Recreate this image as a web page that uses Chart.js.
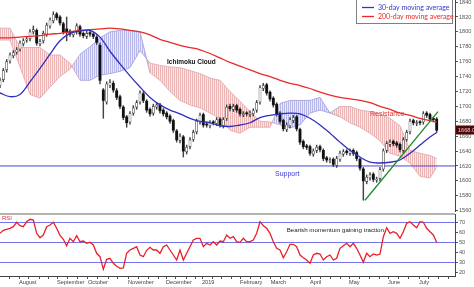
<!DOCTYPE html>
<html lang="en">
<head>
<meta charset="UTF-8">
<title>Index with Ichimoku cloud and RSI</title>
<script src="https://cdn.jsdelivr.net/npm/chart.js"></script>
<style>
    html, body { margin: 0; padding: 0; background: #fff; }
    #wrap { position: relative; width: 474px; height: 287px; overflow: hidden; }
    #priceBox { position: absolute; left: 0; top: 0; width: 474px; height: 212px; }
    #rsiBox { position: absolute; left: 0; top: 212px; width: 474px; height: 75px; }
</style>
</head>
<body>
<div id="wrap">
    <div id="priceBox"><canvas id="price"></canvas></div>
    <div id="rsiBox"><canvas id="rsi"></canvas></div>
</div>
<script>
// ---- data (x = session index) ----
const opens  = [1728,1736,1749,1761,1768,1773,1777,1784,1789,1791,1800,1802,1784,1788,1797,1808,1815,1824,1820,1811,1804,1801,1796,1800,1807,1798,1794,1799,1797,1793,
                1782,1722,1706,1728,1731,1721,1713,1699,1686,1679,1691,1699,1706,1717,1707,1696,1691,1699,
                1702,1695,1691,1687,1681,1667,1654,1659,1639,1646,1656,1666,1679,1689,1676,1674,1679,1677,1683,1674,1684,1700,1696,1701,1696,1689,1691,1689,1690,1695,1706,1724,
                1729,1719,1711,1703,1691,1681,1669,1674,1681,1686,1669,1653,1647,1646,1636,1641,1646,1641,1631,1627,1629,1621,1629,1636,1640,1637,1641,1638,1629,1616,
                1599,1604,1609,1601,1603,1616,1641,1649,1653,1651,1649,1641,1656,1666,1681,1677,1679,1679,1691,1689,1684,1683];
const highs  = [1738,1751,1763,1772,1775,1779,1788,1791,1793,1803,1808,1804,1790,1801,1812,1819,1827,1826,1822,1813,1820,1803,1801,1811,1809,1800,1801,1801,1799,1795,
                1785,1724,1733,1736,1734,1724,1715,1701,1688,1693,1701,1708,1721,1720,1709,1698,1703,1705,
                1704,1697,1693,1689,1683,1669,1663,1661,1648,1658,1668,1683,1691,1691,1678,1681,1681,1685,1685,1685,1702,1703,1703,1703,1698,1693,1693,1694,1697,1708,1728,1731,
                1731,1721,1713,1705,1693,1683,1678,1685,1688,1688,1671,1655,1649,1648,1643,1648,1648,1643,1633,1631,1631,1633,1640,1642,1642,1643,1643,1640,1631,1618,
                1608,1611,1611,1605,1618,1643,1653,1655,1655,1653,1651,1658,1668,1683,1683,1681,1681,1693,1693,1691,1686,1685];
const lows   = [1725,1733,1746,1758,1765,1770,1774,1781,1786,1788,1797,1782,1781,1785,1794,1805,1812,1816,1809,1797,1788,1794,1793,1797,1794,1792,1791,1794,1791,1783,
                1730,1684,1703,1725,1719,1709,1697,1682,1672,1676,1688,1696,1703,1705,1692,1687,1688,1696,
                1691,1687,1683,1677,1665,1652,1651,1632,1636,1643,1653,1663,1676,1672,1672,1671,1675,1674,1672,1671,1681,1694,1693,1692,1687,1686,1687,1686,1687,1692,1703,1721,
                1715,1707,1699,1687,1677,1667,1666,1671,1678,1667,1649,1643,1642,1634,1633,1638,1639,1627,1625,1624,1619,1618,1626,1633,1635,1634,1634,1627,1614,1574,
                1596,1601,1599,1598,1600,1613,1638,1646,1647,1645,1639,1638,1653,1663,1675,1674,1675,1676,1685,1680,1679,1665];
const closes = [1735,1748,1760,1769,1772,1776,1785,1788,1790,1800,1803,1785,1787,1798,1809,1816,1823,1819,1812,1800,1800,1797,1799,1808,1797,1795,1798,1797,1794,1786,
                1735,1708,1730,1732,1722,1712,1700,1685,1678,1690,1698,1705,1718,1708,1695,1690,1700,1702,
                1694,1690,1686,1680,1668,1655,1660,1640,1645,1655,1665,1680,1688,1675,1675,1678,1678,1682,1675,1682,1699,1697,1700,1695,1690,1690,1690,1691,1694,1705,1725,1728,
                1718,1710,1702,1690,1680,1670,1675,1682,1685,1670,1652,1646,1645,1637,1640,1645,1642,1630,1628,1628,1622,1630,1637,1639,1638,1640,1637,1630,1617,1600,
                1605,1608,1602,1602,1615,1640,1650,1652,1650,1648,1642,1655,1665,1680,1678,1678,1678,1690,1688,1683,1682,1668];

// moving averages and Ichimoku spans, sampled every 3 sessions
const maIdx  = [0,3,6,9,12,15,18,21,24,27,30,33,36,39,42,45,48,51,54,57,60,63,66,69,72,75,78,81,84,87,90,93,96,99,102,105,108,111,114,117,120,123,126,129,131];
const ma30   = [1718,1713,1716,1733,1751,1770,1788,1798,1801,1802,1793,1774,1757,1741,1726,1712,1702,1695,1690,1684,1680,1678,1674,1673,1675,1678,1685,1688,1690,1691,1690,1684,1675,1664,1652,1641,1632,1625,1624,1625,1628,1637,1648,1659,1665];
const ma200  = [1792,1792,1793,1794,1795,1797,1798,1800,1802,1803,1804,1805,1804,1802,1800,1796,1790,1786,1782,1779,1776,1771,1765,1759,1754,1749,1744,1740,1735,1731,1728,1724,1719,1715,1712,1710,1708,1705,1700,1696,1691,1688,1684,1681,1679];
const spanA  = [1789,1789,1753,1716,1711,1726,1740,1750,1770,1780,1792,1800,1802,1802,1800,1745,1735,1720,1708,1702,1698,1691,1684,1668,1664,1672,1672,1672,1704,1708,1708,1708,1712,1691,1686,1678,1672,1664,1654,1637,1633,1624,1606,1604,1618];
const spanB  = [1805,1805,1779,1779,1779,1769,1769,1758,1735,1735,1742,1744,1747,1752,1775,1758,1755,1753,1752,1748,1744,1738,1735,1720,1707,1693,1680,1679,1675,1671,1675,1691,1695,1691,1700,1700,1695,1693,1690,1684,1674,1641,1637,1634,1630];

const supportLevel = 1620;
const trendIdx = [109.5, 131.4];
const trendVal = [1574, 1693];

const rsi = [59,62,63,64,65.6,70,66.6,65.6,70.6,73,72.3,59,54.6,57.3,65.6,67.3,70,64,57,53,46.6,54,50.6,56.6,50.6,51.3,49,50,47.3,39,
             35.6,23,33,34,29,26,24,24.5,39,42.3,44,45.6,37.3,35.6,42,45,42.3,42.3,39,45.6,47.3,42.3,37.3,32.3,42.3,32.3,39,45.6,52.3,54,
             54,45.6,49,47.3,50.6,47.3,51.3,50.6,57.3,54,55.6,50.6,50,54,50.6,50.6,52.3,59,70.6,66.6,64,59,50.6,44,42.3,34.6,40.6,48,48,45.6,
             37.3,34.6,32.3,29,37.3,39,38.3,32.3,35.6,37.3,32.3,34,44,46.6,49,45.6,49,44,37.3,30,39,35.6,38.3,37.3,38.3,55.6,64.6,59,60.6,59,
             54,60.6,69,70.6,67.3,64.6,70.6,70,64,60.6,57.3,50];

const monthNames = ['August','September','October','November','December','2019','February','March','April','May','June','July'];
const monthPos   = [5.7,17.1,26.4,38.4,49.8,60.6,72,81.2,93,104.7,116.4,125.7];
const priceTicks = [1560,1570,1580,1590,1600,1610,1620,1630,1640,1650,1660,1670,1680,1690,1700,1710,1720,1730,1740,1750,1760,1770,1780,1790,1800,1810,1820,1830,1840];
const rsiTicks   = [20,25,30,35,40,45,50,55,60,65,70,75];
const rsiLevels  = [30,50,70];

const X_MAX = 136.5;

// ---- helpers ----
const pts = (xs, ys) => xs.map((x, i) => ({ x: x, y: ys[i] }));

function hatch(ctx, bg, line) {
    const c = document.createElement('canvas');
    c.width = 2; c.height = 2;
    const g = c.getContext('2d');
    g.fillStyle = bg; g.fillRect(0, 0, 2, 2);
    g.fillStyle = line; g.fillRect(0, 0, 1, 2);
    return ctx.createPattern(c, 'repeat');
}

const priceCtx = document.getElementById('price').getContext('2d');
const pinkHatch = hatch(priceCtx, '#fce8e8', '#edb6b6');
const blueHatch = hatch(priceCtx, '#e8e8f8', '#b8b8ea');

const wicks = closes.map((c, i) => ({ x: i, y: [lows[i], highs[i]] }));
const upBodies = [], downBodies = [];
closes.forEach((c, i) => {
    const bar = { x: i, y: [opens[i], c] };
    if (c >= opens[i]) upBodies.push(bar); else downBodies.push(bar);
});

const edgeColor = ctx => spanA[ctx.p0DataIndex] >= spanB[ctx.p0DataIndex] ? '#9c9cd8' : '#dba4ac';

const tickFont = { family: 'Liberation Sans', size: 5.6 };
const plain = v => String(v);

// ---- price panel ----
const priceNotes = {
    id: 'priceNotes',
    afterDraw(chart) {
        const { ctx, chartArea: a, scales: { x, y } } = chart;
        ctx.save();
        ctx.textBaseline = 'middle';
        ctx.textAlign = 'left';

        ctx.font = 'bold 6.5px "Liberation Sans"';
        ctx.fillStyle = '#111';
        ctx.fillText('Ichimoku Cloud', x.getPixelForValue(50.1), y.getPixelForValue(1759.5));

        ctx.font = '7px "Liberation Sans"';
        ctx.fillStyle = '#e03a3a';
        ctx.fillText('Resistance', x.getPixelForValue(111), y.getPixelForValue(1690));
        ctx.fillStyle = '#3a3ad8';
        ctx.fillText('Support', x.getPixelForValue(82.5), y.getPixelForValue(1609));

        // last price tag on the axis
        const last = closes[closes.length - 1];
        const ty = Math.round(y.getPixelForValue(last));
        ctx.fillStyle = '#4a0808';
        ctx.fillRect(a.right + 1, ty - 4.5, chart.width - a.right - 1, 9);
        ctx.fillStyle = '#ffc8c8';
        ctx.font = '5.6px "Liberation Sans"';
        ctx.fillText(last.toFixed(2), a.right + 3, ty + 0.5);

        // legend box
        const lx = a.right - 99, lw = 96, lh = 24;
        ctx.fillStyle = '#fff';
        ctx.fillRect(lx, 0, lw, lh);
        ctx.strokeStyle = '#808080';
        ctx.lineWidth = 1;
        ctx.strokeRect(lx + 0.5, -0.5, lw, lh);
        ctx.lineWidth = 1.3;
        ctx.strokeStyle = '#3535c8';
        ctx.beginPath(); ctx.moveTo(lx + 6, 7.5); ctx.lineTo(lx + 18, 7.5); ctx.stroke();
        ctx.strokeStyle = '#e82a2a';
        ctx.beginPath(); ctx.moveTo(lx + 6, 16.5); ctx.lineTo(lx + 18, 16.5); ctx.stroke();
        ctx.font = '7px Lato';
        ctx.fillStyle = '#3535c8';
        ctx.fillText('30-day moving average', lx + 22, 7.5);
        ctx.fillStyle = '#e82a2a';
        ctx.fillText('200-day moving average', lx + 22, 16.5);
        ctx.restore();
    }
};

new Chart(priceCtx, {
    type: 'line',
    data: {
        datasets: [
            {
                label: 'Span A', data: pts(maIdx, spanA), order: 20,
                borderWidth: 0.8, pointRadius: 0, tension: 0,
                segment: { borderColor: edgeColor },
                fill: { target: 1, above: blueHatch, below: pinkHatch }
            },
            {
                label: 'Span B', data: pts(maIdx, spanB), order: 19,
                borderWidth: 0.8, pointRadius: 0, tension: 0,
                segment: { borderColor: edgeColor }, fill: false
            },
            {
                label: 'Support', data: [{ x: 0, y: supportLevel }, { x: X_MAX, y: supportLevel }], order: 15,
                borderColor: '#4646dc', borderWidth: 1, pointRadius: 0
            },
            {
                type: 'bar', label: 'wick', data: wicks, order: 12, grouped: false,
                backgroundColor: '#444', barThickness: 0.8
            },
            {
                type: 'bar', label: 'up', data: upBodies, order: 11, grouped: false,
                backgroundColor: '#fff', borderColor: '#333', borderWidth: 0.6, borderSkipped: false,
                barThickness: 2.2, minBarLength: 1
            },
            {
                type: 'bar', label: 'down', data: downBodies, order: 10, grouped: false,
                backgroundColor: '#111', barThickness: 2.2, minBarLength: 1
            },
            {
                label: '200-day moving average', data: pts(maIdx, ma200), order: 5,
                borderColor: '#e82a2a', borderWidth: 1.3, pointRadius: 0, tension: 0.35
            },
            {
                label: '30-day moving average', data: pts(maIdx, ma30), order: 4,
                borderColor: '#3030c0', borderWidth: 1.3, pointRadius: 0, tension: 0.35
            },
            {
                label: 'trend', data: pts(trendIdx, trendVal), order: 3,
                borderColor: '#1f8a2a', borderWidth: 1.3, pointRadius: 0
            }
        ]
    },
    options: {
        responsive: true,
        maintainAspectRatio: false,
        animation: false,
        layout: { padding: 0 },
        plugins: { legend: { display: false }, tooltip: { enabled: false } },
        scales: {
            x: { type: 'linear', min: 0, max: X_MAX, display: false, offset: false },
            y: {
                position: 'right', min: 1558.2, max: 1842.8,
                afterBuildTicks: s => { s.ticks = priceTicks.map(v => ({ value: v })); },
                afterFit: s => { s.width = 19; s.paddingTop = 0; s.paddingBottom = 0; },
                grid: { drawOnChartArea: false, tickLength: 3, tickColor: '#555' },
                border: { color: '#444' },
                ticks: { padding: 1, font: tickFont, color: '#555', callback: plain }
            }
        }
    },
    plugins: [priceNotes]
});

// ---- RSI panel ----
const weekTicks = [];
monthPos.forEach((m, i) => {
    weekTicks.push(m);
    const next = i + 1 < monthPos.length ? monthPos[i + 1] : X_MAX;
    for (let t = m + 3; t < next - 1.5; t += 3) weekTicks.push(t);
});
for (let t = monthPos[0] - 3; t > 0; t -= 3) weekTicks.unshift(t);

const rsiNotes = {
    id: 'rsiNotes',
    afterDraw(chart) {
        const { ctx, chartArea: a, scales: { x, y } } = chart;
        ctx.save();
        ctx.strokeStyle = '#9a9a9a';
        ctx.lineWidth = 1.5;
        ctx.beginPath(); ctx.moveTo(0, a.top); ctx.lineTo(a.right, a.top); ctx.stroke();
        ctx.textBaseline = 'middle';
        ctx.font = '6px "Liberation Sans"';
        ctx.fillStyle = '#e03030';
        ctx.fillText('RSI', 2, a.top + 4);
        ctx.fillStyle = '#222';
        ctx.font = '6.2px "Liberation Sans"';
        ctx.fillText('Bearish momentum gaining traction', x.getPixelForValue(86), y.getPixelForValue(62.5));
        ctx.restore();
    }
};

new Chart(document.getElementById('rsi'), {
    type: 'line',
    data: {
        datasets: [{
            label: 'RSI', data: rsi.map((v, i) => ({ x: i, y: v })),
            borderColor: '#e8202a', borderWidth: 1.3, pointRadius: 0, tension: 0
        }]
    },
    options: {
        responsive: true,
        maintainAspectRatio: false,
        animation: false,
        layout: { padding: { top: 2 } },
        plugins: { legend: { display: false }, tooltip: { enabled: false } },
        scales: {
            x: {
                type: 'linear', min: 0, max: X_MAX, offset: false,
                afterBuildTicks: s => { s.ticks = weekTicks.map(v => ({ value: v })); },
                afterFit: s => { s.height = 11; s.paddingLeft = 0; s.paddingRight = 0; },
                grid: { drawOnChartArea: false, tickLength: 3, tickColor: '#555' },
                border: { color: '#444' },
                ticks: {
                    align: 'start', padding: 0, autoSkip: false, maxRotation: 0,
                    font: tickFont, color: '#444',
                    callback: v => { const k = monthPos.indexOf(v); return k >= 0 ? monthNames[k] : ''; }
                }
            },
            y: {
                position: 'right', min: 16.3, max: 78.3,
                afterBuildTicks: s => { s.ticks = rsiTicks.map(v => ({ value: v })); },
                afterFit: s => { s.width = 19; s.paddingTop = 0; s.paddingBottom = 0; },
                grid: {
                    tickLength: 3, tickColor: '#555',
                    color: c => rsiLevels.includes(c.tick && c.tick.value) ? '#7474ee' : 'rgba(0,0,0,0)'
                },
                border: { color: '#444' },
                ticks: { padding: 1, font: tickFont, color: '#555', callback: plain }
            }
        }
    },
    plugins: [rsiNotes]
});
</script>
</body>
</html>
